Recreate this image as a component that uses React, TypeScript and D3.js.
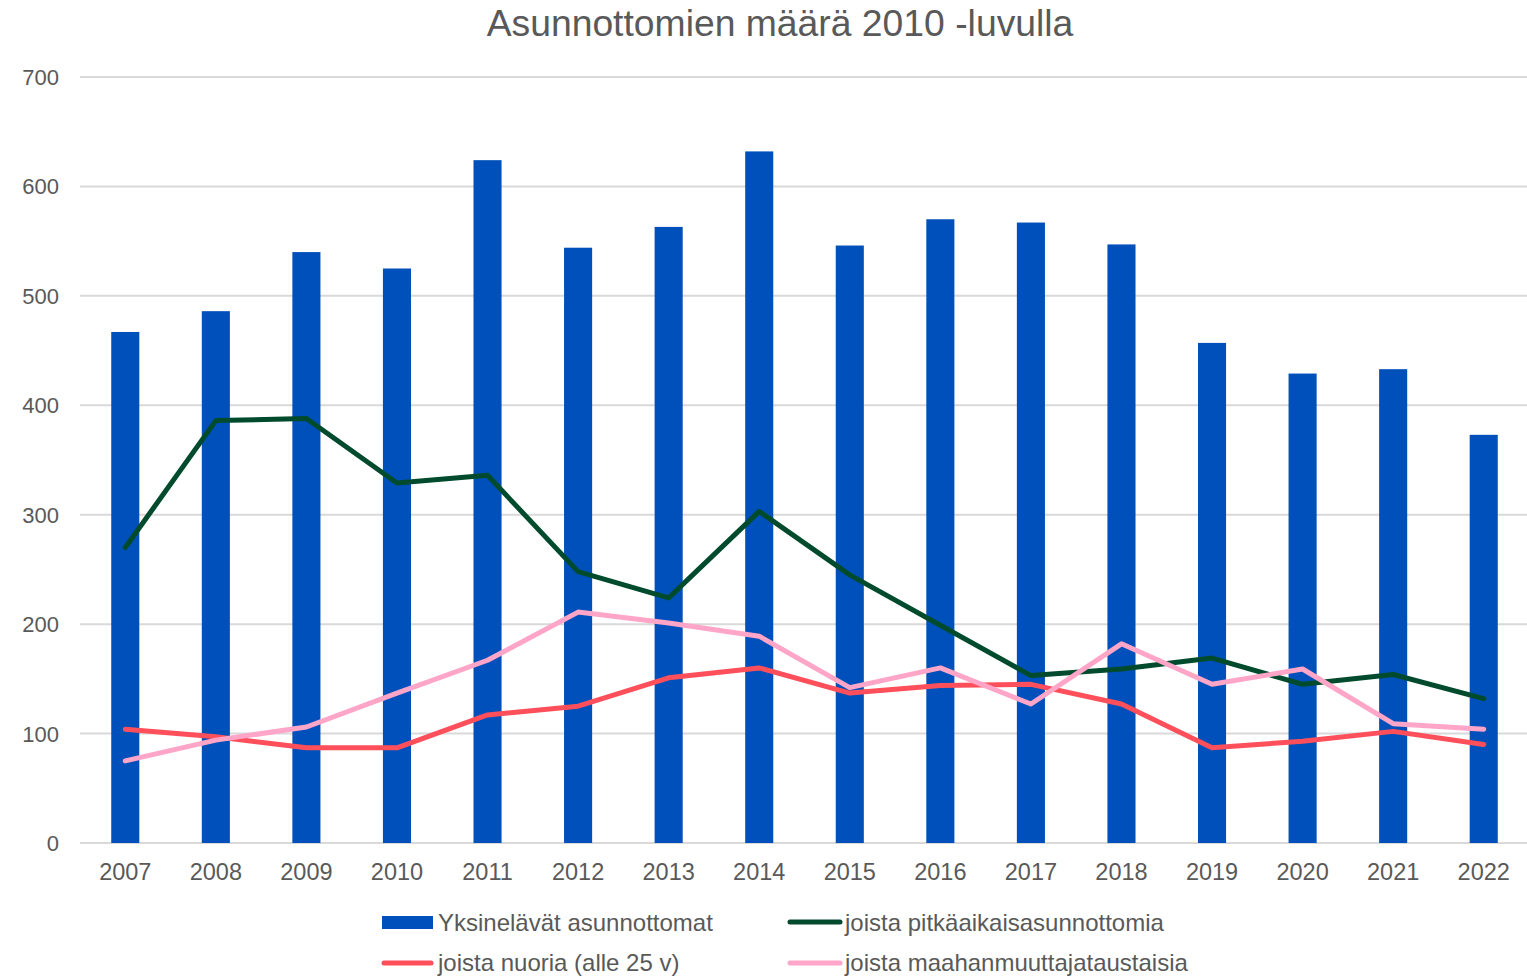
import React from "react";
import * as d3 from "d3";

const years = ["2007","2008","2009","2010","2011","2012","2013","2014","2015","2016","2017","2018","2019","2020","2021","2022"];
const yksinelavat = [467,486,540,525,624,544,563,632,546,570,567,547,457,429,433,373];
const pitkaaikais = [270,386,388,329,336,248,224,303,245,199,153,159,169,145,154,132];
const nuoria = [104,97,87,87,117,125,151,160,137,144,145,127,87,93,102,90];
const maahanmuuttaja = [75,94,106,137,167,211,201,189,142,160,127,182,145,159,109,104];
const yTicks = [0,100,200,300,400,500,600,700];

const lineSeries = [
  { name: "joista pitkäaikaisasunnottomia", values: pitkaaikais, color: "#004B2D" },
  { name: "joista nuoria (alle 25 v)", values: nuoria, color: "#FF4F5B" },
  { name: "joista maahanmuuttajataustaisia", values: maahanmuuttaja, color: "#FFA5C8" },
];

export default function App() {
  const W = 1527, H = 977;
  const left = 80, right = 1529, top = 77, bottom = 843;
  const font = "Arial, 'Liberation Sans', sans-serif";
  const x = d3.scaleBand().domain(years).range([left, right]).paddingInner(0.69).paddingOuter(0.345);
  const y = d3.scaleLinear().domain([0, 700]).range([bottom, top]);
  const cx = (yr: string) => (x(yr) as number) + x.bandwidth() / 2;
  const line = d3.line<number>().x((_, i) => cx(years[i])).y(d => y(d));
  const textColor = "#595959";
  return (
    <svg width={W} height={H} style={{ position: "absolute", left: 0, top: 0, background: "#fff" }} fontFamily={font}>
      <text x={780} y={36} textAnchor="middle" fontSize={37.3} fill={textColor}>Asunnottomien määrä 2010 -luvulla</text>
      {yTicks.map(t => (
        <g key={t}>
          <line x1={left} x2={W} y1={y(t)} y2={y(t)} stroke="#d9d9d9" strokeWidth={2} />
          <text x={59} y={y(t) + 8} textAnchor="end" fontSize={22} fill={textColor}>{t}</text>
        </g>
      ))}
      {years.map((yr, i) => (
        <rect key={yr} x={x(yr)} y={y(yksinelavat[i])} width={x.bandwidth()} height={bottom - y(yksinelavat[i])} fill="#0050BB" />
      ))}
      {lineSeries.map(s => (
        <path key={s.name} d={line(s.values) || ""} fill="none" stroke={s.color} strokeWidth={5} strokeLinecap="round" strokeLinejoin="round" />
      ))}
      {years.map(yr => (
        <text key={yr} x={cx(yr)} y={880} textAnchor="middle" fontSize={23.5} fill={textColor}>{yr}</text>
      ))}
      <g fontSize={24} fill={textColor}>
        <rect x={382} y={916} width={51} height={13} fill="#0050BB" />
        <text x={438} y={931}>Yksinelävät asunnottomat</text>
        <line x1={790} x2={840} y1={922} y2={922} stroke={lineSeries[0].color} strokeWidth={5} strokeLinecap="round" />
        <text x={845} y={931}>{lineSeries[0].name}</text>
        <line x1={384} x2={431} y1={963} y2={963} stroke={lineSeries[1].color} strokeWidth={5} strokeLinecap="round" />
        <text x={438} y={971}>{lineSeries[1].name}</text>
        <line x1={790} x2={840} y1={963} y2={963} stroke={lineSeries[2].color} strokeWidth={5} strokeLinecap="round" />
        <text x={845} y={971}>{lineSeries[2].name}</text>
      </g>
    </svg>
  );
}
